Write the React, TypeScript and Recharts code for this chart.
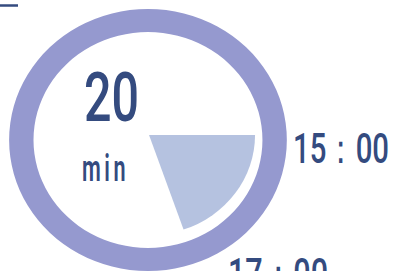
import React from 'react';
import { PieChart, Pie, Cell } from 'recharts';

// ring = full clock face, wedge = elapsed share
const ringData = [{ name: 'clock', value: 1 }];
const wedgeData = [{ name: 'elapsed', value: 1 }];
const wedgeSpan = 71; // degrees, clockwise from 3 o'clock
const minutes = '20';
const unit = 'min';
const startLabel = '15：00';
const endLabel = '17：00';

const NAVY = '#344b7f';
const FONT = "Roboto, 'DejaVu Sans Condensed', sans-serif";

export default function App() {
  return (
    <div style={{ position: 'absolute', left: 0, top: 0, width: 395, height: 271, overflow: 'hidden', background: '#fff' }}>
      <div style={{ position: 'absolute', left: 0, top: 0, transform: 'scaleX(1.06)', transformOrigin: '0 0' }}>
        <PieChart width={373} height={290} margin={{ top: 0, right: 0, bottom: 0, left: 0 }}>
          <Pie
            data={ringData}
            dataKey="value"
            cx={139.6}
            cy={140}
            innerRadius={108}
            outerRadius={131}
            startAngle={90}
            endAngle={-270}
            stroke="none"
            isAnimationActive={false}
          >
            {ringData.map((d) => (
              <Cell key={d.name} fill="#9599cf" />
            ))}
          </Pie>
          <Pie
            data={wedgeData}
            dataKey="value"
            cx={140.6}
            cy={135}
            innerRadius={0}
            outerRadius={100}
            startAngle={0}
            endAngle={-wedgeSpan}
            stroke="none"
            isAnimationActive={false}
          >
            {wedgeData.map((d) => (
              <Cell key={d.name} fill="#b5c2e0" />
            ))}
          </Pie>
        </PieChart>
      </div>
      <svg width={395} height={300} style={{ position: 'absolute', left: 0, top: 0 }}>
        <line x1={0} y1={5.5} x2={18} y2={5.5} stroke={NAVY} strokeWidth={2.5} />
        <text x={84} y={121} fontFamily={FONT} fontWeight={500} fontSize={68} fill={NAVY} textLength={55} lengthAdjust="spacingAndGlyphs">
          {minutes}
        </text>
        <text x={82} y={181} fontFamily={FONT} fontWeight={600} fontSize={37} letterSpacing={6} fill={NAVY} textLength={47} lengthAdjust="spacingAndGlyphs">
          {unit}
        </text>
        <text x={293} y={163} fontFamily={FONT} fontWeight={500} fontSize={42} fill={NAVY} textLength={96} lengthAdjust="spacingAndGlyphs">
          {startLabel}
        </text>
        <text x={228} y={288} fontFamily={FONT} fontWeight={500} fontSize={42} fill={NAVY} textLength={100} lengthAdjust="spacingAndGlyphs">
          {endLabel}
        </text>
      </svg>
    </div>
  );
}
